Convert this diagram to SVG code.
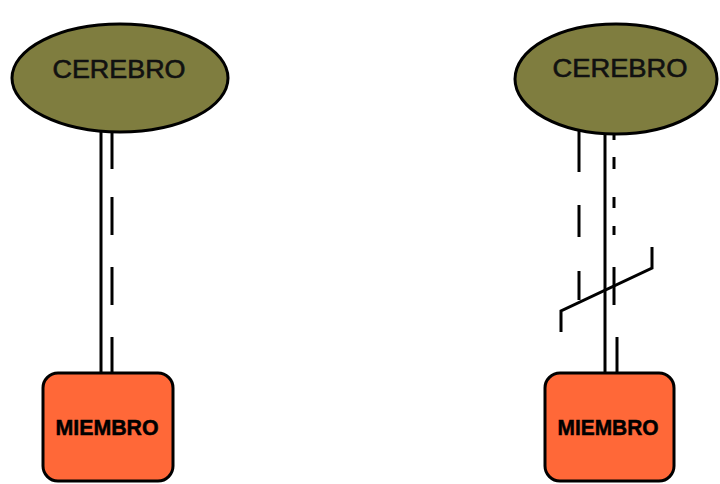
<svg xmlns="http://www.w3.org/2000/svg" width="720" height="484" viewBox="0 0 720 484">
<style>
.brain{fill:#7f7d3f;stroke:#000;stroke-width:3}
.limb{fill:#ff6838;stroke:#000;stroke-width:3}
.t1{font-family:"Liberation Sans",Arial,sans-serif;font-size:25px;fill:#111;stroke:#111;stroke-width:0.6}
.t2{font-family:"Liberation Sans",Arial,sans-serif;font-size:22px;font-weight:bold;fill:#000;stroke:#000;stroke-width:0.5}
.ln{stroke:#000;stroke-width:3;fill:none}
</style>
<rect width="720" height="484" fill="#fff"/>
<g id="connectors">
<line class="ln" x1="101" y1="130" x2="101" y2="373"/>
<line class="ln" x1="112" y1="129" x2="112" y2="169"/>
<line class="ln" x1="112" y1="197" x2="112" y2="235"/>
<line class="ln" x1="112" y1="267" x2="112" y2="305"/>
<line class="ln" x1="112" y1="337" x2="112" y2="373"/>
<line class="ln" x1="605" y1="132" x2="605" y2="373"/>
<line class="ln" x1="579" y1="130" x2="579" y2="172"/>
<line class="ln" x1="579" y1="205" x2="579" y2="237"/>
<line class="ln" x1="579" y1="271" x2="579" y2="300"/>
<line class="ln" x1="614" y1="130" x2="614" y2="140"/>
<line class="ln" x1="614" y1="157" x2="614" y2="169"/>
<line class="ln" x1="614" y1="197" x2="614" y2="208"/>
<line class="ln" x1="614" y1="226" x2="614" y2="235"/>
<line class="ln" x1="614" y1="267" x2="614" y2="305"/>
<line class="ln" x1="617" y1="337" x2="617" y2="373"/>
<polyline class="ln" points="561,332 561,311 652,268 652,247"/>
</g>
<g id="cerebro1">
<ellipse class="brain" cx="120" cy="78" rx="108" ry="54"/>
<text class="t1" x="119" y="78" text-anchor="middle" textLength="133" lengthAdjust="spacingAndGlyphs">CEREBRO</text>
</g>
<g id="miembro1">
<rect class="limb" x="43" y="373" width="130" height="108" rx="15"/>
<text class="t2" x="107" y="435" text-anchor="middle" textLength="103" lengthAdjust="spacingAndGlyphs">MIEMBRO</text>
</g>
<g id="cerebro2">
<ellipse class="brain" cx="616" cy="79" rx="101" ry="55"/>
<text class="t1" x="620" y="77" text-anchor="middle" textLength="135" lengthAdjust="spacingAndGlyphs">CEREBRO</text>
</g>
<g id="miembro2">
<rect class="limb" x="545" y="373" width="129" height="108" rx="15"/>
<text class="t2" x="608" y="435" text-anchor="middle" textLength="101" lengthAdjust="spacingAndGlyphs">MIEMBRO</text>
</g>
</svg>
